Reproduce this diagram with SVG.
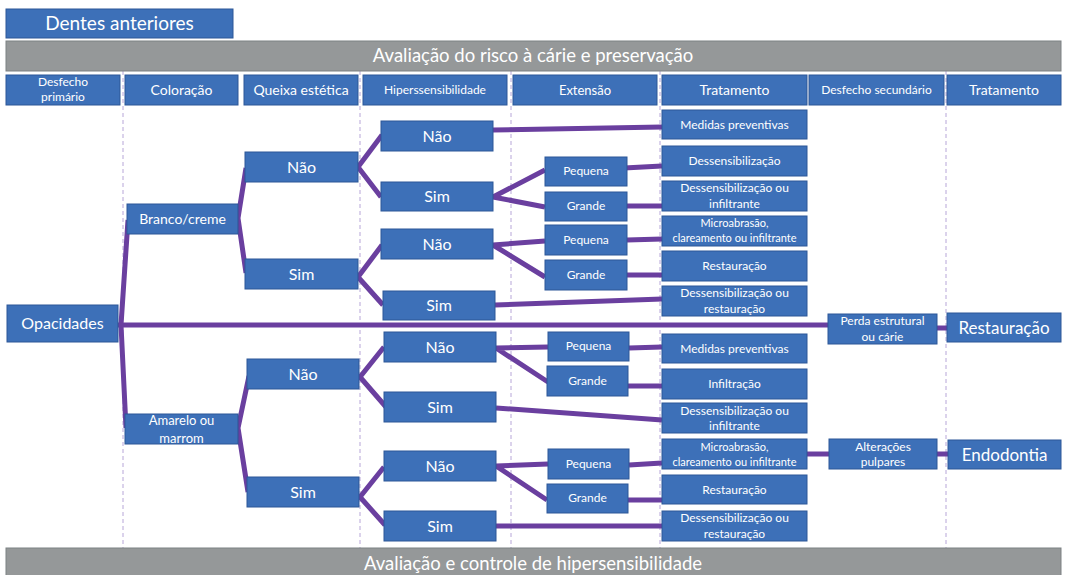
<svg xmlns="http://www.w3.org/2000/svg" width="1065" height="575" viewBox="0 0 1065 575">
<style>
.b{fill:#3d70b8;stroke:#2d5797;stroke-width:1}
.g{fill:#959899;stroke:#7d8183;stroke-width:1}
text{font-family:Lato,"Liberation Sans",sans-serif;fill:#ffffff;text-anchor:middle}
.f19{font-size:19px}.f18{font-size:18.5px}.f17{font-size:17px}.f16{font-size:16px}.f15{font-size:15px}.f14{font-size:14px}.f13{font-size:13px}.f12{font-size:12px}.f11{font-size:11px}
.d{stroke:#b7a6d8;stroke-width:1;stroke-dasharray:4 3;fill:none}
.c{stroke:#6a3f9f;stroke-width:5;fill:none;stroke-linejoin:round}
</style>
<rect width="1065" height="575" fill="#ffffff"/>
<g id="guides">
<line class="d" x1="123" y1="71" x2="123" y2="548"/>
<line class="d" x1="360" y1="71" x2="360" y2="548"/>
<line class="d" x1="511" y1="71" x2="511" y2="548"/>
<line class="d" x1="660" y1="71" x2="660" y2="548"/>
<line class="d" x1="946" y1="71" x2="946" y2="548"/>
</g>
<g id="title"><rect class="b" x="6" y="9" width="227" height="29"/><text class="f19" x="119.5" y="30">Dentes anteriores</text></g>
<g id="bar-top"><rect class="g" x="6" y="41" width="1055" height="30"/><text class="f18" x="533" y="62">Avaliação do risco à cárie e preservação</text></g>
<g id="bar-bottom"><rect class="g" x="6" y="548" width="1055" height="32"/><text class="f18" x="533" y="570">Avaliação e controle de hipersensibilidade</text></g>
<g id="headers">
<g id="h1"><rect class="b" x="6" y="75" width="114" height="30"/><text class="f12" x="63" y="86">Desfecho</text><text class="f12" x="63" y="101">primário</text></g>
<g id="h2"><rect class="b" x="125" y="75" width="113" height="30"/><text class="f14" x="181.5" y="95">Coloração</text></g>
<g id="h3"><rect class="b" x="244" y="75" width="114" height="30"/><text class="f14" x="301" y="95">Queixa estética</text></g>
<g id="h4"><rect class="b" x="363" y="75" width="144" height="30"/><text class="f12" x="435" y="94">Hiperssensibilidade</text></g>
<g id="h5"><rect class="b" x="513" y="75" width="144" height="30"/><text class="f13" x="585" y="95">Extensão</text></g>
<g id="h6"><rect class="b" x="662" y="75" width="145" height="30"/><text class="f14" x="734.5" y="95">Tratamento</text></g>
<g id="h7"><rect class="b" x="809" y="75" width="135" height="30"/><text class="f12" x="876.5" y="94">Desfecho secundário</text></g>
<g id="h8"><rect class="b" x="947" y="75" width="114" height="30"/><text class="f14" x="1004" y="95">Tratamento</text></g>
</g>
<g id="connectors">
<polyline class="c" points="128,220 121,325 126,428"/>
<line class="c" x1="118" y1="325" x2="828" y2="325"/>
<polyline class="c" points="246,168 238,218 246,273"/>
<polyline class="c" points="249,376 238,428 248,492"/>
<polyline class="c" points="382,135 358,167 381,197"/>
<polyline class="c" points="382,245 358,277 383,305"/>
<polyline class="c" points="384,347 360,377 386,407"/>
<polyline class="c" points="384,467 360,497 385,525"/>
<line class="c" x1="493" y1="130" x2="662" y2="127"/>
<polyline class="c" points="545,170 493,197 545,207"/>
<polyline class="c" points="545,241 493,245 545,277"/>
<line class="c" x1="495" y1="305" x2="662" y2="299"/>
<polyline class="c" points="548,347 496,348 548,382"/>
<line class="c" x1="496" y1="408" x2="662" y2="420"/>
<polyline class="c" points="548,464 496,466 547,500"/>
<line class="c" x1="496" y1="526" x2="662" y2="526"/>
<line class="c" x1="624" y1="168" x2="662" y2="166"/>
<line class="c" x1="627" y1="206" x2="662" y2="206"/>
<line class="c" x1="627" y1="240" x2="662" y2="239"/>
<line class="c" x1="627" y1="275" x2="662" y2="275"/>
<line class="c" x1="629" y1="348" x2="662" y2="347"/>
<line class="c" x1="628" y1="386" x2="662" y2="386"/>
<line class="c" x1="629" y1="465" x2="662" y2="463"/>
<line class="c" x1="628" y1="500" x2="662" y2="500"/>
<line class="c" x1="937" y1="328" x2="958" y2="328"/>
<line class="c" x1="807" y1="454" x2="829" y2="454"/>
<line class="c" x1="937" y1="454" x2="948" y2="454"/>
</g>
<g id="n-opacidades"><rect class="b" x="7" y="305" width="111" height="37"/><text class="f16" x="62.5" y="329">Opacidades</text></g>
<g id="n-branco"><rect class="b" x="127" y="204" width="111" height="30"/><text class="f14" x="182.5" y="224">Branco/creme</text></g>
<g id="n-amarelo"><rect class="b" x="125" y="414" width="113" height="30"/><text class="f13" x="181.5" y="425">Amarelo ou</text><text class="f13" x="181.5" y="443">marrom</text></g>
<g id="n-q1"><rect class="b" x="245" y="152" width="113" height="30"/><text class="f16" x="301.5" y="173">Não</text></g>
<g id="n-q2"><rect class="b" x="245" y="259" width="113" height="30"/><text class="f16" x="301.5" y="280">Sim</text></g>
<g id="n-q3"><rect class="b" x="247" y="359" width="112" height="30"/><text class="f16" x="303" y="380">Não</text></g>
<g id="n-q4"><rect class="b" x="247" y="477" width="112" height="30"/><text class="f16" x="303" y="498">Sim</text></g>
<g id="n-h1"><rect class="b" x="381" y="121" width="112" height="30"/><text class="f16" x="437" y="142">Não</text></g>
<g id="n-h2"><rect class="b" x="381" y="182" width="112" height="29"/><text class="f16" x="437" y="202">Sim</text></g>
<g id="n-h3"><rect class="b" x="381" y="229" width="112" height="30"/><text class="f16" x="437" y="250">Não</text></g>
<g id="n-h4"><rect class="b" x="383" y="291" width="112" height="29"/><text class="f16" x="439" y="311">Sim</text></g>
<g id="n-h5"><rect class="b" x="384" y="332" width="112" height="30"/><text class="f16" x="440" y="353">Não</text></g>
<g id="n-h6"><rect class="b" x="384" y="392" width="112" height="30"/><text class="f16" x="440" y="413">Sim</text></g>
<g id="n-h7"><rect class="b" x="384" y="451" width="112" height="30"/><text class="f16" x="440" y="472">Não</text></g>
<g id="n-h8"><rect class="b" x="384" y="511" width="112" height="30"/><text class="f16" x="440" y="532">Sim</text></g>
<g id="n-e1"><rect class="b" x="545" y="157" width="82" height="29"/><text class="f12" x="586" y="175">Pequena</text></g>
<g id="n-e2"><rect class="b" x="545" y="192" width="82" height="29"/><text class="f12" x="586" y="210">Grande</text></g>
<g id="n-e3"><rect class="b" x="545" y="225" width="82" height="30"/><text class="f12" x="586" y="244">Pequena</text></g>
<g id="n-e4"><rect class="b" x="545" y="260" width="82" height="30"/><text class="f12" x="586" y="279">Grande</text></g>
<g id="n-e5"><rect class="b" x="548" y="332" width="81" height="29"/><text class="f12" x="588.5" y="350">Pequena</text></g>
<g id="n-e6"><rect class="b" x="547" y="366" width="81" height="30"/><text class="f12" x="587.5" y="385">Grande</text></g>
<g id="n-e7"><rect class="b" x="548" y="449" width="81" height="30"/><text class="f12" x="588.5" y="468">Pequena</text></g>
<g id="n-e8"><rect class="b" x="547" y="484" width="81" height="29"/><text class="f12" x="587.5" y="502">Grande</text></g>
<g id="n-t1"><rect class="b" x="662" y="110" width="145" height="29"/><text class="f12" x="734.5" y="129">Medidas preventivas</text></g>
<g id="n-t2"><rect class="b" x="662" y="146" width="145" height="30"/><text class="f12" x="734.5" y="165">Dessensibilização</text></g>
<g id="n-t3"><rect class="b" x="662" y="181" width="145" height="30"/><text class="f12" x="734.5" y="192">Dessensibilização ou</text><text class="f12" x="734.5" y="208">infiltrante</text></g>
<g id="n-t4"><rect class="b" x="662" y="216" width="145" height="30"/><text class="f11" x="734.5" y="227">Microabrasão,</text><text class="f11" x="734.5" y="242">clareamento ou infiltrante</text></g>
<g id="n-t5"><rect class="b" x="662" y="251" width="145" height="30"/><text class="f12" x="734.5" y="270">Restauração</text></g>
<g id="n-t6"><rect class="b" x="662" y="286" width="145" height="30"/><text class="f12" x="734.5" y="297">Dessensibilização ou</text><text class="f12" x="734.5" y="313">restauração</text></g>
<g id="n-t7"><rect class="b" x="662" y="334" width="145" height="29"/><text class="f12" x="734.5" y="353">Medidas preventivas</text></g>
<g id="n-t8"><rect class="b" x="662" y="369" width="145" height="30"/><text class="f12" x="734.5" y="388">Infiltração</text></g>
<g id="n-t9"><rect class="b" x="662" y="403" width="145" height="30"/><text class="f12" x="734.5" y="415">Dessensibilização ou</text><text class="f12" x="734.5" y="430">infiltrante</text></g>
<g id="n-t10"><rect class="b" x="662" y="439" width="145" height="30"/><text class="f11" x="734.5" y="451">Microabrasão,</text><text class="f11" x="734.5" y="466">clareamento ou infiltrante</text></g>
<g id="n-t11"><rect class="b" x="662" y="475" width="145" height="29"/><text class="f12" x="734.5" y="494">Restauração</text></g>
<g id="n-t12"><rect class="b" x="662" y="511" width="145" height="30"/><text class="f12" x="734.5" y="522">Dessensibilização ou</text><text class="f12" x="734.5" y="538">restauração</text></g>
<g id="n-perda"><rect class="b" x="828" y="314" width="109" height="30"/><text class="f12" x="882.5" y="325">Perda estrutural</text><text class="f12" x="882.5" y="341">ou cárie</text></g>
<g id="n-alter"><rect class="b" x="829" y="439" width="108" height="30"/><text class="f12" x="883" y="451">Alterações</text><text class="f12" x="883" y="466">pulpares</text></g>
<g id="n-rest"><rect class="b" x="947" y="313" width="114" height="29"/><text class="f17" x="1004" y="334">Restauração</text></g>
<g id="n-endo"><rect class="b" x="948" y="440" width="113" height="29"/><text class="f17" x="1004.5" y="461">Endodontia</text></g>
</svg>
